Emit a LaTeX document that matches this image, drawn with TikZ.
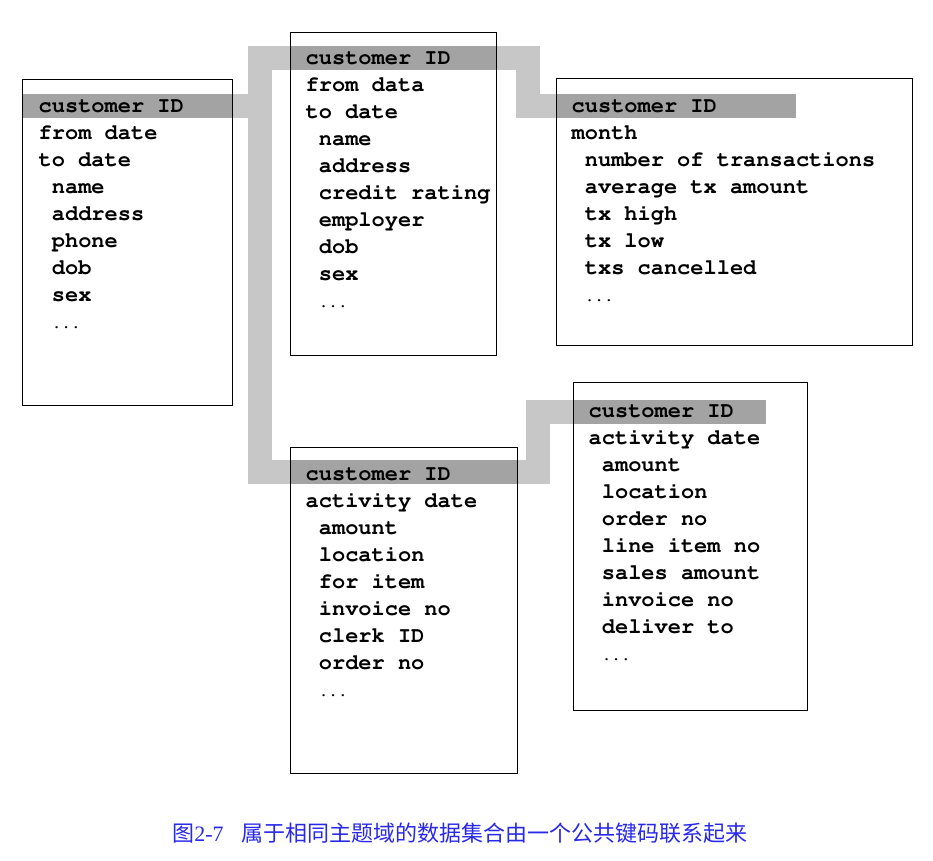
\documentclass[tikz,border=0pt]{standalone}
\usepackage[T1]{fontenc}
\usepackage{fontspec}
\usetikzlibrary{positioning}
\usetikzlibrary{backgrounds}
\newfontfamily\cjkfont{Noto Sans CJK SC}
\newfontfamily\capnumfont{Liberation Serif}
\newcommand\fieldfont{\fontencoding{T1}\fontfamily{pcr}\fontseries{b}\fontshape{n}\fontsize{22}{27}\selectfont}
\newcommand\etc{{\fontsize{16}{27}\selectfont...}}
\definecolor{bandgray}{gray}{0.78}
\definecolor{keygray}{gray}{0.64}
\definecolor{capblue}{RGB}{40,40,235}

\begin{document}
\begin{tikzpicture}[x=1pt,y=-1pt,line width=1.3pt,
  box/.style={draw,anchor=north west,inner sep=0pt},
  keyrow/.style={fill=keygray,anchor=north west,inner sep=0pt,minimum height=24pt},
  fields/.style={inner sep=0pt,text width=360pt,align=left,font=\fieldfont,
    execute at begin node={\spaceskip=13.2pt\relax}},
  band/.style={draw=bandgray,line width=24pt,line join=miter}]
  \useasboundingbox (0,0) rectangle (933,860);
  % key rows
  \node[keyrow,minimum width=210pt](keyA) at (22,93) {};
  \node[keyrow,minimum width=206pt](keyB) at (290,45.5) {};
  \node[keyrow,minimum width=239pt](keyC) at (556,93.5) {};
  \node[keyrow,minimum width=227pt](keyD) at (290,459.5) {};
  \node[keyrow,minimum width=192pt](keyE) at (573,399) {};
  % tables
  \node[box,minimum width=210pt,minimum height=326pt](boxA) at (22,79) {};
  \node[box,minimum width=206pt,minimum height=323pt](boxB) at (290,32) {};
  \node[box,minimum width=356pt,minimum height=267pt](boxC) at (556,78) {};
  \node[box,minimum width=227pt,minimum height=326pt](boxD) at (290,447) {};
  \node[box,minimum width=234pt,minimum height=328pt](boxE) at (573,382) {};
  \node[fields,below right=33pt and 16pt of boxA.north west,anchor=base west](listA)
    {customer ID\\from date\\to date\\\ name\\\ address\\\ phone\\\ dob\\\ sex\\\ \etc};
  \node[fields,below right=32pt and 15pt of boxB.north west,anchor=base west](listB)
    {customer ID\\from data\\to date\\\ name\\\ address\\\ credit rating\\\ employer\\\ dob\\\ sex\\\ \etc};
  \node[fields,below right=34pt and 15pt of boxC.north west,anchor=base west](listC)
    {customer ID\\month\\\ number of transactions\\\ average tx amount\\\ tx high\\\ tx low\\\ txs cancelled\\\ \etc};
  \node[fields,below right=33pt and 15pt of boxD.north west,anchor=base west](listD)
    {customer ID\\activity date\\\ amount\\\ location\\\ for item\\\ invoice no\\\ clerk ID\\\ order no\\\ \etc};
  \node[fields,below right=35pt and 15pt of boxE.north west,anchor=base west](listE)
    {customer ID\\activity date\\\ amount\\\ location\\\ order no\\\ line item no\\\ sales amount\\\ invoice no\\\ deliver to\\\ \etc};
  % common key band
  \coordinate (spineL) at (259.5,0);
  \coordinate (spineR) at (527.5,0);
  \coordinate (spineD) at (537.5,0);
  \begin{pgfonlayer}{background}
    \draw[band] (keyA.west) -- (spineL |- keyA.west);
    \draw[band] (keyC.east) -- (spineR |- keyC.east) -- (spineR |- keyB.west) -- (spineL |- keyB.west)
      -- (spineL |- keyD.west) -- (spineD |- keyD.west) -- (spineD |- keyE.east) -- (keyE.east);
  \end{pgfonlayer}
  \node[font=\cjkfont\fontsize{22}{26}\selectfont,text=capblue](caption) at (460,833)
    {图{\capnumfont 2-7}\hspace{18pt}属于相同主题域的数据集合由一个公共键码联系起来};
\end{tikzpicture}
\end{document}
